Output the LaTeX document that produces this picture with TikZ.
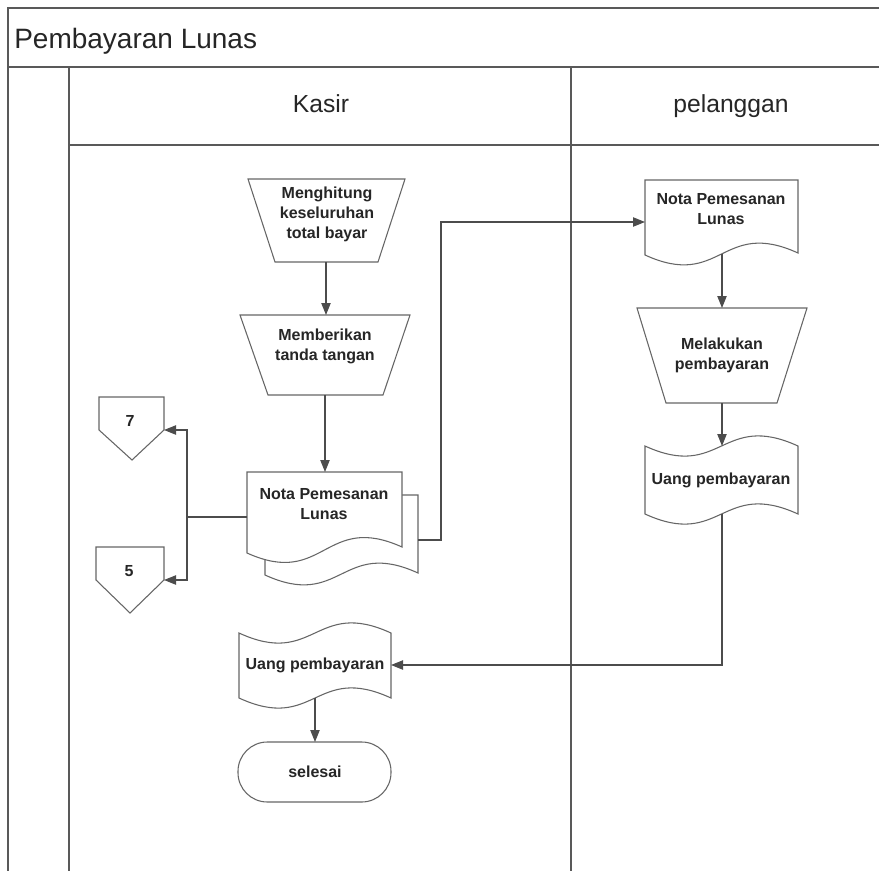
\documentclass[tikz,border=0pt]{standalone}
\usepackage{fontspec}
\setmainfont{Liberation Sans}
\usetikzlibrary{arrows.meta}
\begin{document}
\begin{tikzpicture}[x=0.75pt,y=-0.75pt,
  frame/.style={draw=black!65, line width=1pt},
  shapeline/.style={draw=black!60, line width=0.8pt, fill=white},
  flow/.style={draw=black!70, line width=0.8pt, -{Triangle[length=9pt,width=7pt]}},
  plain/.style={draw=black!70, line width=0.8pt},
  lbl/.style={font=\bfseries\fontsize{12}{15}\selectfont, text=black!85, align=center, inner sep=0pt},
  hdr/.style={font=\fontsize{18.5}{22}\selectfont, text=black!85, inner sep=0pt, anchor=base}
]
\path[use as bounding box, fill=white] (0,0) rectangle (879,871);

% frame and lanes
\draw[frame] (879,8) -- (8,8) -- (8,871);
\draw[frame] (8,67) -- (879,67);
\draw[frame] (69,67) -- (69,871);
\draw[frame] (69,145) -- (879,145);
\draw[frame] (571,67) -- (571,871);
\node[font=\fontsize{21}{25}\selectfont, text=black!85, inner sep=0pt, anchor=base west] (title) at (14,48) {Pembayaran Lunas};
\node[hdr] (kasir) at (321,112) {Kasir};
\node[hdr] (pel) at (731,112) {pelanggan};

% Menghitung (manual operation)
\draw[shapeline] (248,179) -- (405,179) -- (378,262) -- (275,262) -- cycle;
\node[lbl] (hitung) at (327,214) {Menghitung\\keseluruhan\\total bayar};
\coordinate (hitungS) at (326,262);

% Memberikan
\draw[shapeline] (240,315) -- (410,315) -- (383,395) -- (268,395) -- cycle;
\node[lbl] (beri) at (325,346) {Memberikan\\tanda tangan};
\coordinate (beriN) at (326,315);
\coordinate (beriS) at (325,395);

% Kasir Nota (multi document)
\draw[shapeline] (265,495) -- (418,495) -- (418,573) .. controls (341.5,538) and (341.5,610) .. (265,575) -- cycle;
\draw[shapeline] (247,472) -- (402,472) -- (402,547) .. controls (324.5,512) and (324.5,588) .. (247,553) -- cycle;
\node[lbl] (notaK) at (324,504) {Nota Pemesanan\\Lunas};
\coordinate (notaKN) at (325,472);
\coordinate (notaKW) at (247,517);
\coordinate (notaKE) at (418,540);

% off-page connectors
\draw[shapeline] (99,397) -- (164,397) -- (164,430) -- (132,460) -- (99,430) -- cycle;
\node[lbl] (c7) at (130,421) {7};
\coordinate (c7E) at (164,430);
\draw[shapeline] (96,547) -- (164,547) -- (164,580) -- (130,613) -- (96,580) -- cycle;
\node[lbl] (c5) at (129,571) {5};
\coordinate (c5E) at (164,580);
\coordinate (split) at (187,517);

% pelanggan Nota (document)
\draw[shapeline] (645,180) -- (798,180) -- (798,253) .. controls (721.5,218) and (721.5,290) .. (645,255) -- cycle;
\node[lbl] (notaP) at (721,209) {Nota Pemesanan\\Lunas};
\coordinate (notaPW) at (645,222);
\coordinate (notaPS) at (722,254);

% Melakukan pembayaran
\draw[shapeline] (637,308) -- (807,308) -- (777,403) -- (666,403) -- cycle;
\node[lbl] (bayar) at (722,355) {Melakukan\\pembayaran};
\coordinate (bayarN) at (722,308);
\coordinate (bayarS) at (722,403);

% Uang pembayaran (pelanggan, tape)
\draw[shapeline] (645,446) .. controls (721.5,481) and (721.5,411) .. (798,446) -- (798,514) .. controls (721.5,479) and (721.5,549) .. (645,514) -- cycle;
\node[lbl] (uangP) at (721,480) {Uang pembayaran};
\coordinate (uangPN) at (722,446);
\coordinate (uangPS) at (722,514);

% Uang pembayaran (kasir, tape)
\draw[shapeline] (239,633) .. controls (315,668) and (315,598) .. (391,633) -- (391,698) .. controls (315,663) and (315,733) .. (239,698) -- cycle;
\node[lbl] (uangK) at (315,665) {Uang pembayaran};
\coordinate (uangKE) at (391,665);
\coordinate (uangKS) at (315,698);

% selesai
\draw[shapeline, rounded corners=22pt] (238,742) rectangle (391,802);
\node[lbl] (selesai) at (315,772) {selesai};
\coordinate (selesaiN) at (315,742);

% connectors
\draw[flow] (hitungS) -- (beriN);
\draw[flow] (beriS) -- (notaKN);
\draw[plain] (notaKW) -- (split);
\draw[flow] (split) |- (c7E);
\draw[flow] (split) |- (c5E);
\draw[flow] (notaKE) -- (441,540) -- (441,222) -- (notaPW);
\draw[flow] (notaPS) -- (bayarN);
\draw[flow] (bayarS) -- (uangPN);
\draw[flow] (uangPS) |- (uangKE);
\draw[flow] (uangKS) -- (selesaiN);
\end{tikzpicture}
\end{document}
